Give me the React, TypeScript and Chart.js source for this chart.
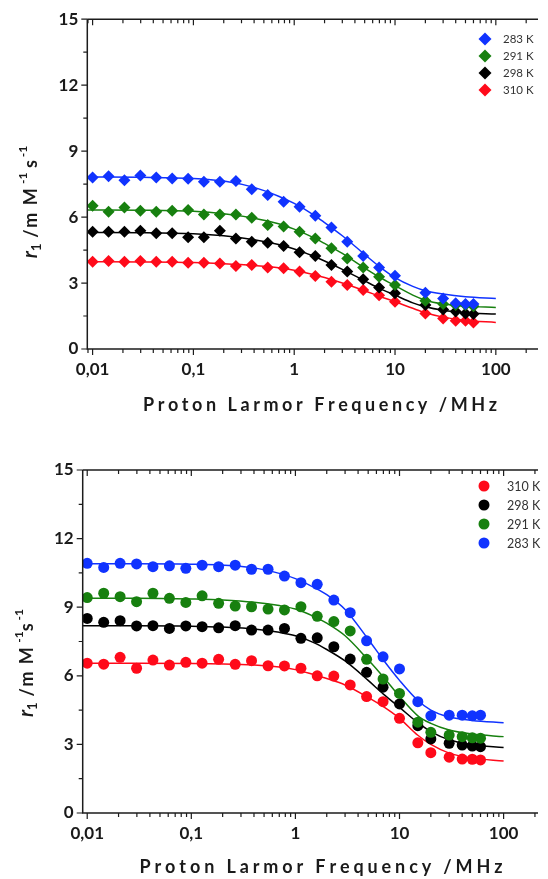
import { useEffect, useRef } from 'react';
import { Chart, registerables } from 'chart.js';
Chart.register(...registerables);

// ---------- DATA ----------
const freqLow = [0.01, 0.0144, 0.0207, 0.0298, 0.0428, 0.0616, 0.0886, 0.127, 0.183, 0.264, 0.379, 0.546, 0.785, 1.13, 1.62, 2.34, 3.36, 4.83, 6.95, 10];
const freqTopHigh = [20, 30, 40, 50, 60];
const freqBottomHigh = [15, 20, 30, 40, 50, 60];
const fitFreq = [0.009, 0.03, 0.1, 0.2, 0.4, 0.7, 1, 1.5, 2, 3, 5, 7, 10, 15, 20, 30, 50, 100];

const xTickValues = [0.01, 0.1, 1, 10, 100];
const xTickLabels = ['0,01', '0,1', '1', '10', '100'];
const yTickValues = [0, 3, 6, 9, 12, 15];

// top panel (diamonds)
const topLabels = ['283 K', '291 K', '298 K', '310 K'];
const top283 = [7.80, 7.86, 7.68, 7.89, 7.80, 7.76, 7.74, 7.61, 7.61, 7.64, 7.27, 7.00, 6.70, 6.47, 6.06, 5.53, 4.88, 4.23, 3.71, 3.33, 2.56, 2.30, 2.08, 2.05, 2.05];
const top291 = [6.51, 6.24, 6.44, 6.29, 6.24, 6.29, 6.32, 6.12, 6.12, 6.12, 5.97, 5.64, 5.57, 5.33, 5.03, 4.58, 4.12, 3.71, 3.29, 2.91, 2.20, 2.05, 2.00, 2.00, 1.95];
const top298 = [5.33, 5.33, 5.33, 5.38, 5.26, 5.26, 5.08, 5.08, 5.38, 5.03, 4.88, 4.83, 4.68, 4.40, 4.23, 3.82, 3.52, 3.17, 2.80, 2.53, 2.00, 1.80, 1.70, 1.62, 1.59];
const top310 = [3.97, 4.00, 3.97, 4.00, 3.97, 3.97, 3.92, 3.92, 3.89, 3.77, 3.82, 3.71, 3.67, 3.52, 3.32, 3.06, 2.91, 2.68, 2.45, 2.15, 1.62, 1.39, 1.29, 1.29, 1.21];
const topFit283 = [7.82, 7.81, 7.76, 7.64, 7.35, 6.95, 6.62, 6.15, 5.75, 5.15, 4.30, 3.75, 3.25, 2.85, 2.65, 2.50, 2.38, 2.30];
const topFit291 = [6.32, 6.31, 6.26, 6.15, 5.95, 5.70, 5.45, 5.10, 4.80, 4.35, 3.68, 3.27, 2.88, 2.45, 2.22, 2.05, 1.95, 1.89];
const topFit298 = [5.30, 5.29, 5.24, 5.15, 4.97, 4.75, 4.55, 4.25, 4.00, 3.62, 3.10, 2.76, 2.45, 2.10, 1.92, 1.76, 1.65, 1.59];
const topFit310 = [3.97, 3.96, 3.93, 3.88, 3.80, 3.70, 3.58, 3.40, 3.25, 3.00, 2.65, 2.40, 2.15, 1.85, 1.65, 1.45, 1.30, 1.21];

// bottom panel (circles)
const bottomLabels = ['310 K', '298 K', '291 K', '283 K'];
const bot283 = [10.92, 10.74, 10.92, 10.89, 10.77, 10.81, 10.70, 10.84, 10.77, 10.84, 10.66, 10.66, 10.36, 10.07, 10.00, 9.31, 8.76, 7.53, 6.83, 6.30, 4.87, 4.25, 4.28, 4.28, 4.25, 4.28];
const bot291 = [9.42, 9.61, 9.46, 9.24, 9.61, 9.39, 9.21, 9.50, 9.17, 9.05, 9.02, 8.92, 8.88, 9.02, 8.60, 8.37, 7.96, 6.72, 5.86, 5.23, 3.97, 3.53, 3.41, 3.34, 3.29, 3.27];
const bot298 = [8.51, 8.34, 8.41, 8.18, 8.19, 8.07, 8.18, 8.15, 8.10, 8.19, 8.00, 8.00, 8.07, 7.64, 7.66, 7.27, 6.73, 6.15, 5.50, 4.77, 3.82, 3.24, 3.05, 2.97, 2.93, 2.90];
const bot310 = [6.55, 6.51, 6.81, 6.33, 6.69, 6.47, 6.59, 6.55, 6.72, 6.50, 6.66, 6.44, 6.43, 6.33, 6.00, 5.99, 5.60, 5.09, 4.87, 4.14, 3.07, 2.64, 2.44, 2.36, 2.35, 2.32];
const botFit283 = [10.90, 10.90, 10.88, 10.84, 10.72, 10.48, 10.25, 9.87, 9.55, 8.90, 7.60, 6.69, 5.80, 4.92, 4.50, 4.20, 4.05, 3.95];
const botFit291 = [9.39, 9.39, 9.36, 9.32, 9.22, 9.07, 8.92, 8.60, 8.30, 7.75, 6.70, 5.95, 5.10, 4.25, 3.92, 3.63, 3.45, 3.34];
const botFit298 = [8.19, 8.19, 8.17, 8.13, 8.05, 7.90, 7.75, 7.45, 7.15, 6.65, 5.80, 5.20, 4.62, 3.95, 3.56, 3.20, 2.98, 2.86];
const botFit310 = [6.55, 6.55, 6.54, 6.52, 6.47, 6.38, 6.27, 6.05, 5.88, 5.60, 5.05, 4.65, 4.14, 3.40, 3.00, 2.62, 2.40, 2.27];

// ---------- STYLE ----------
const COLORS: Record<string, string> = {
  '283 K': '#1033ff',
  '291 K': '#17800f',
  '298 K': '#000000',
  '310 K': '#ff0a1a',
};
const AXIS_COLOR = '#1c1c1c';
const FONT = 'Lato, "Open Sans", sans-serif';

type Series = { label: string; x: number[]; y: number[]; fit: number[] };

type PanelCfg = {
  width: number;
  height: number;
  series: Series[];
  legendOrder: string[];
  pointStyle: string;
  pointRadius: number;
  xMin: number;
  xMax: number;
  padTop: number;
  yWidth: number;
  xHeight: number;
  legend: { mx: number; tx: number; y0: number; dy: number; size: number; mr: number };
  xTitle: { cx: number; cy: number; w: number };
  yTitle: { cx: number; cy: number; spaceBeforeS: boolean };
};

function spacedWidth(ctx: CanvasRenderingContext2D, text: string, sp: number) {
  let w = 0;
  for (const ch of text) w += ctx.measureText(ch).width + sp;
  return w - sp;
}
function drawSpaced(ctx: CanvasRenderingContext2D, text: string, x: number, y: number, sp: number) {
  let cx = x;
  for (const ch of text) {
    ctx.fillText(ch, cx, y);
    cx += ctx.measureText(ch).width + sp;
  }
}

function makePlugin(cfg: PanelCfg) {
  return {
    id: 'panelDecor',
    afterDraw(chart: any) {
      const ctx: CanvasRenderingContext2D = chart.ctx;
      const { left, top, right, bottom } = chart.chartArea;
      const xs = chart.scales.x;
      const ys = chart.scales.y;
      ctx.save();
      ctx.strokeStyle = AXIS_COLOR;
      ctx.lineWidth = 1.5;
      ctx.beginPath();
      ctx.moveTo(left, top);
      ctx.lineTo(right, top);
      ctx.moveTo(left, top);
      ctx.lineTo(left, bottom);
      ctx.lineTo(right, bottom);
      ctx.stroke();
      ctx.lineWidth = 1.2;
      ctx.beginPath();
      for (let e = -3; e <= 3; e++) {
        for (let m = 1; m <= 9; m++) {
          const v = m * Math.pow(10, e);
          if (v < xs.min || v > xs.max) continue;
          const px = xs.getPixelForValue(v);
          const len = m === 1 ? 6 : 4;
          ctx.moveTo(px, bottom);
          ctx.lineTo(px, bottom + len);
          ctx.moveTo(px, top);
          ctx.lineTo(px, top + len);
        }
      }
      for (let v = 0; v <= 15.001; v += 1.5) {
        const py = ys.getPixelForValue(v);
        const major = Math.abs(v / 3 - Math.round(v / 3)) < 1e-6;
        const len = major ? 6 : 4;
        ctx.moveTo(left, py);
        ctx.lineTo(left - len, py);
      }
      ctx.stroke();

      // legend
      const lg = cfg.legend;
      cfg.legendOrder.forEach((lab, i) => {
        const y = lg.y0 + i * lg.dy;
        const c = COLORS[lab];
        ctx.fillStyle = c;
        ctx.beginPath();
        if (cfg.pointStyle === 'rectRot') {
          ctx.moveTo(lg.mx, y - lg.mr);
          ctx.lineTo(lg.mx + lg.mr, y);
          ctx.lineTo(lg.mx, y + lg.mr);
          ctx.lineTo(lg.mx - lg.mr, y);
          ctx.closePath();
        } else {
          ctx.arc(lg.mx, y, lg.mr, 0, Math.PI * 2);
        }
        ctx.fill();
        ctx.fillStyle = '#333';
        ctx.font = `${lg.size}px ${FONT}`;
        ctx.textBaseline = 'middle';
        ctx.textAlign = 'left';
        ctx.fillText(lab, lg.tx, y + 0.5);
      });

      // x title
      const xt = 'Proton Larmor Frequency /MHz';
      ctx.fillStyle = '#1a1a1a';
      ctx.font = `bold 18px ${FONT}`;
      ctx.textBaseline = 'middle';
      ctx.textAlign = 'left';
      const raw = spacedWidth(ctx, xt, 0);
      const sp = (cfg.xTitle.w - raw) / (xt.length - 1);
      drawSpaced(ctx, xt, cfg.xTitle.cx - cfg.xTitle.w / 2, cfg.xTitle.cy, sp);

      // y title (rotated rich text)
      const pieces = [
        { t: 'r', f: `italic bold 20px ${FONT}`, dy: 0, sp: 0 },
        { t: '1', f: `bold 13px ${FONT}`, dy: 4, sp: 0 },
        { t: ' /m M', f: `bold 18px ${FONT}`, dy: 0, sp: 1.5 },
        { t: ' -1', f: `bold 12px ${FONT}`, dy: -10, sp: 0 },
        { t: cfg.yTitle.spaceBeforeS ? ' s' : 's', f: `bold 18px ${FONT}`, dy: 0, sp: 0 },
        { t: ' -1', f: `bold 12px ${FONT}`, dy: -10, sp: 0 },
      ];
      ctx.translate(cfg.yTitle.cx, cfg.yTitle.cy);
      ctx.rotate(-Math.PI / 2);
      ctx.textBaseline = 'alphabetic';
      const widths = pieces.map((p) => {
        ctx.font = p.f;
        return spacedWidth(ctx, p.t, p.sp) + p.sp;
      });
      const total = widths.reduce((a, b) => a + b, 0);
      let u = -total / 2;
      pieces.forEach((p, i) => {
        ctx.font = p.f;
        drawSpaced(ctx, p.t, u, 6 + p.dy, p.sp);
        u += widths[i];
      });
      ctx.restore();
    },
  };
}

function buildConfig(cfg: PanelCfg): any {
  const datasets: any[] = [];
  cfg.series.forEach((s) => {
    const c = COLORS[s.label];
    datasets.push({
      label: s.label,
      data: s.x.map((v, i) => ({ x: v, y: s.y[i] })),
      showLine: false,
      pointStyle: cfg.pointStyle,
      pointRadius: cfg.pointRadius,
      pointBackgroundColor: c,
      pointBorderColor: c,
      pointBorderWidth: 0,
      order: 0,
    });
    datasets.push({
      label: s.label + ' fit',
      data: fitFreq.map((v, i) => ({ x: v, y: s.fit[i] })),
      showLine: true,
      pointRadius: 0,
      borderColor: c,
      borderWidth: 1.5,
      cubicInterpolationMode: 'monotone',
      order: 1,
    });
  });
  const tickFont = { family: FONT, size: 17, weight: 'bold' };
  return {
    type: 'scatter',
    data: { datasets },
    options: {
      animation: false,
      responsive: false,
      events: [],
      layout: { padding: { top: cfg.padTop, left: 0, right: 0, bottom: 0 } },
      plugins: { legend: { display: false }, tooltip: { enabled: false } },
      scales: {
        x: {
          type: 'logarithmic',
          min: cfg.xMin,
          max: cfg.xMax,
          grid: { display: false, drawTicks: false },
          border: { display: false },
          ticks: {
            autoSkip: false,
            maxRotation: 0,
            minRotation: 0,
            padding: 10,
            color: '#1a1a1a',
            font: tickFont,
            callback: (v: number) => {
              const i = xTickValues.findIndex((t) => Math.abs(Math.log10(v) - Math.log10(t)) < 1e-6);
              return i >= 0 ? xTickLabels[i] : '';
            },
          },
          afterFit: (s: any) => {
            s.height = cfg.xHeight;
          },
        },
        y: {
          type: 'linear',
          min: 0,
          max: 15,
          grid: { display: false, drawTicks: false },
          border: { display: false },
          afterBuildTicks: (s: any) => {
            s.ticks = yTickValues.map((v) => ({ value: v }));
          },
          ticks: {
            padding: 9,
            color: '#1a1a1a',
            font: tickFont,
          },
          afterFit: (s: any) => {
            s.width = cfg.yWidth;
          },
        },
      },
    },
    plugins: [makePlugin(cfg)],
  };
}

const topCfg: PanelCfg = {
  width: 548,
  height: 440,
  series: [
    { label: '283 K', x: [...freqLow, ...freqTopHigh], y: top283, fit: topFit283 },
    { label: '291 K', x: [...freqLow, ...freqTopHigh], y: top291, fit: topFit291 },
    { label: '298 K', x: [...freqLow, ...freqTopHigh], y: top298, fit: topFit298 },
    { label: '310 K', x: [...freqLow, ...freqTopHigh], y: top310, fit: topFit310 },
  ],
  legendOrder: topLabels,
  pointStyle: 'rectRot',
  pointRadius: 6,
  xMin: 0.00886,
  xMax: 262,
  padTop: 19,
  yWidth: 87.3,
  xHeight: 91,
  legend: { mx: 485, tx: 503, y0: 39, dy: 17, size: 11.5, mr: 6.5 },
  xTitle: { cx: 320, cy: 405, w: 354 },
  yTitle: { cx: 31, cy: 202, spaceBeforeS: true },
};

const bottomCfg: PanelCfg = {
  width: 548,
  height: 439,
  series: [
    { label: '283 K', x: [...freqLow, ...freqBottomHigh], y: bot283, fit: botFit283 },
    { label: '291 K', x: [...freqLow, ...freqBottomHigh], y: bot291, fit: botFit291 },
    { label: '298 K', x: [...freqLow, ...freqBottomHigh], y: bot298, fit: botFit298 },
    { label: '310 K', x: [...freqLow, ...freqBottomHigh], y: bot310, fit: botFit310 },
  ],
  legendOrder: bottomLabels,
  pointStyle: 'circle',
  pointRadius: 5.5,
  xMin: 0.00905,
  xMax: 214,
  padTop: 30,
  yWidth: 82.7,
  xHeight: 66,
  legend: { mx: 484, tx: 507, y0: 46, dy: 19, size: 12.5, mr: 5.5 },
  xTitle: { cx: 321, cy: 427, w: 363 },
  yTitle: { cx: 27, cy: 223, spaceBeforeS: false },
};

function Panel({ cfg, top }: { cfg: PanelCfg; top: number }) {
  const ref = useRef<HTMLCanvasElement | null>(null);
  useEffect(() => {
    if (!ref.current) return;
    const chart = new Chart(ref.current, buildConfig(cfg));
    return () => chart.destroy();
  }, [cfg]);
  return (
    <div style={{ position: 'absolute', left: 0, top, width: cfg.width, height: cfg.height }}>
      <canvas ref={ref} width={cfg.width} height={cfg.height} style={{ display: 'block', width: cfg.width, height: cfg.height }} />
    </div>
  );
}

export default function App() {
  return (
    <div style={{ position: 'absolute', left: 0, top: 0, width: 548, height: 879, background: '#fff' }}>
      <Panel cfg={topCfg} top={0} />
      <Panel cfg={bottomCfg} top={440} />
    </div>
  );
}
